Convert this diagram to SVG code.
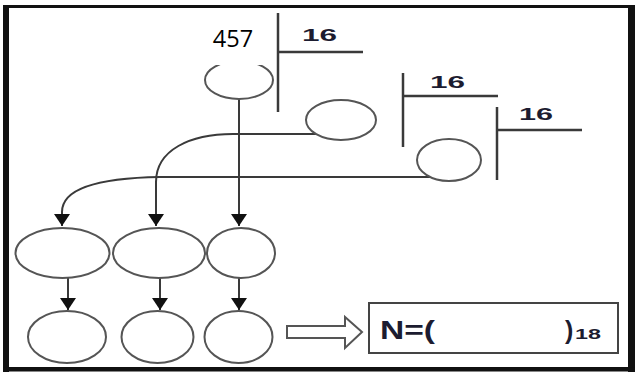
<svg xmlns="http://www.w3.org/2000/svg" width="640" height="372" viewBox="0 0 640 372">
<defs>
<style>
.n{fill:#fff;stroke:#555;stroke-width:2}
.c{fill:none;stroke:#3a3a3a;stroke-width:2}
.bar{stroke:#3a3a3a;stroke-width:2.5}
.t16{font-family:"Liberation Sans",Arial,sans-serif;font-weight:bold;font-size:17px;fill:#1c1c30}
.big{font-family:"Liberation Sans",Arial,sans-serif;font-weight:bold;font-size:25px;fill:#1c1c30}
</style>
<marker id="ah" markerUnits="userSpaceOnUse" markerWidth="12" markerHeight="16" viewBox="0 0 12 16" refX="12" refY="8" orient="auto">
<path d="M0,0 L12,8 L0,16 Z" fill="#111"/>
</marker>
</defs>
<rect x="0" y="0" width="640" height="372" fill="#fff"/>
<g id="frame">
<rect x="6" y="6.5" width="625" height="362" fill="none" stroke="#111" stroke-width="3"/>
<line x1="6" y1="5" x2="6" y2="372" stroke="#111" stroke-width="6"/>
<line x1="631.5" y1="5" x2="631.5" y2="372" stroke="#111" stroke-width="7"/>
<line x1="3" y1="369.5" x2="635" y2="369.5" stroke="#111" stroke-width="4"/>
</g>
<g id="connectors">
<line class="c" x1="239" y1="99" x2="239" y2="226" marker-end="url(#ah)"/>
<path class="c" d="M332,134 L233,134 C190,134 156,150 156,182 L156,226" marker-end="url(#ah)"/>
<path class="c" d="M430,177 L160,177 C95,178 62,190 62,212 L62,226" marker-end="url(#ah)"/>
<line class="c" x1="68" y1="278" x2="68" y2="310" marker-end="url(#ah)"/>
<line class="c" x1="160" y1="278" x2="160" y2="310" marker-end="url(#ah)"/>
<line class="c" x1="239" y1="278" x2="239" y2="310" marker-end="url(#ah)"/>
<polygon points="287,326 345,326 345,317 362,332 345,348 345,338 287,338" fill="#fff" stroke="#555" stroke-width="2"/>
</g>
<g id="top-node">
<ellipse class="n" cx="239" cy="80" rx="34" ry="19"/>
<rect x="192" y="20" width="85" height="45" fill="#fff"/>
<text x="233" y="47" text-anchor="middle" font-family="'Open Sans','Liberation Sans',sans-serif" font-size="23.5" fill="#000">457</text>
</g>
<g id="div1">
<line class="bar" x1="278" y1="13" x2="278" y2="112"/>
<line class="bar" x1="278" y1="52" x2="363" y2="52"/>
<text class="t16" x="302" y="41" textLength="35" lengthAdjust="spacingAndGlyphs">16</text>
</g>
<g id="node2"><ellipse class="n" cx="341" cy="120" rx="35" ry="20"/></g>
<g id="div2">
<line class="bar" x1="403" y1="73" x2="403" y2="147"/>
<line class="bar" x1="403" y1="96" x2="498" y2="96"/>
<text class="t16" x="430" y="88" textLength="35" lengthAdjust="spacingAndGlyphs">16</text>
</g>
<g id="node3"><ellipse class="n" cx="449" cy="160" rx="32" ry="21"/></g>
<g id="div3">
<line class="bar" x1="497" y1="107" x2="497" y2="180"/>
<line class="bar" x1="497" y1="130" x2="582" y2="130"/>
<text class="t16" x="519" y="120" textLength="34" lengthAdjust="spacingAndGlyphs">16</text>
</g>
<g id="m1"><ellipse class="n" cx="62.5" cy="253" rx="47" ry="25"/></g>
<g id="m2"><ellipse class="n" cx="159" cy="253" rx="46" ry="25"/></g>
<g id="m3"><ellipse class="n" cx="241" cy="253" rx="34" ry="25"/></g>
<g id="b1"><ellipse class="n" cx="67" cy="337" rx="39" ry="26"/></g>
<g id="b2"><ellipse class="n" cx="157.5" cy="337" rx="36" ry="26"/></g>
<g id="b3"><ellipse class="n" cx="238.5" cy="337" rx="34" ry="26"/></g>
<g id="result">
<rect x="369" y="303" width="249" height="50" fill="#fff" stroke="#444" stroke-width="2"/>
<text class="big" x="380" y="339" textLength="55" lengthAdjust="spacingAndGlyphs">N=(</text>
<text class="big" x="565" y="339">)</text>
<text x="575" y="339" font-family="'Liberation Sans',Arial,sans-serif" font-weight="bold" font-size="14" fill="#1c1c30" textLength="26" lengthAdjust="spacingAndGlyphs">18</text>
</g>
</svg>
